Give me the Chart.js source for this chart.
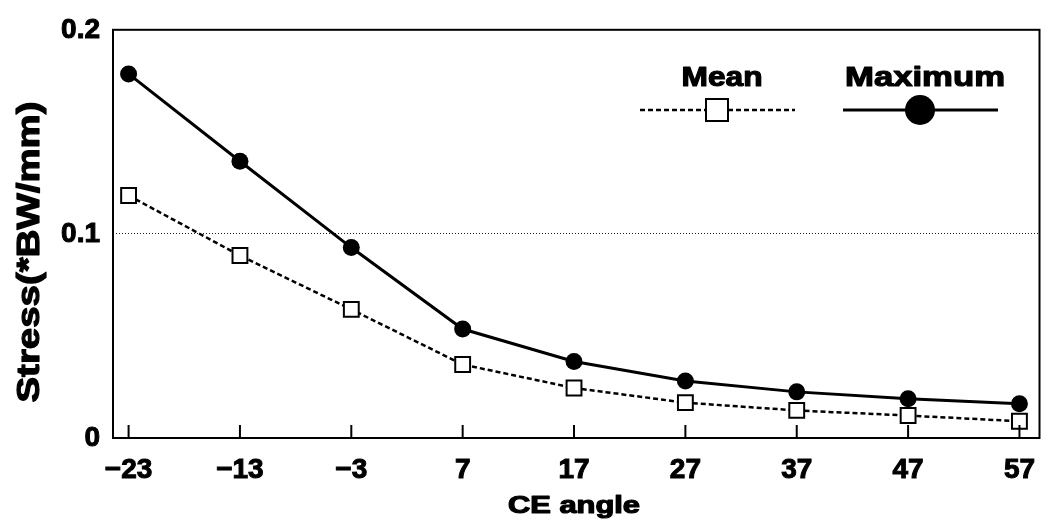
<!DOCTYPE html>
<html>
<head>
<meta charset="utf-8">
<script src="https://cdn.jsdelivr.net/npm/chart.js@4/dist/chart.umd.min.js"></script>
<style>
    html, body { margin: 0; padding: 0; background: #fff; }
    #wrap { width: 1052px; height: 523px; }
</style>
</head>
<body>
<div id="wrap"><canvas id="grafica" width="1052" height="523"></canvas></div>
<script>
// Datos
const angulos = [-23, -13, -3, 7, 17, 27, 37, 47, 57];
const etiquetasX = ['\u221223', '\u221213', '\u22123', '7', '17', '27', '37', '47', '57'];
const valoresMean = [0.1188, 0.0894, 0.0630, 0.0360, 0.0245, 0.0173, 0.0135, 0.0110, 0.0082];
const valoresMax = [0.1784, 0.1356, 0.0933, 0.0534, 0.0375, 0.0279, 0.0226, 0.0192, 0.0168];
const ticksY = [0, 0.1, 0.2];
const etiquetasY = ['0', '0.1', '0.2'];
const tituloX = 'CE angle';
const tituloY = 'Stress(*BW/mm)';
const nombresSeries = ['Mean', 'Maximum'];

const fuente = '"Liberation Sans", Arial, Helvetica, sans-serif';

// Texto en negrita ensanchado hasta un ancho dado (la tipografía original es más ancha y gruesa)
function textoAncho(ctx, texto, x, y, ancho, tam) {
    ctx.font = 'bold ' + tam + 'px ' + fuente;
    const w = ctx.measureText(texto).width;
    ctx.save();
    ctx.translate(x, y);
    ctx.scale(ancho / w, 1);
    ctx.textAlign = 'center';
    ctx.lineWidth = 1.2;
    ctx.lineJoin = 'round';
    ctx.strokeText(texto, 0, 0);
    ctx.fillText(texto, 0, 0);
    ctx.restore();
}

// Marco, marcas hacia dentro, títulos y leyenda propia
const extras = {
    id: 'extras',
    afterDraw(chart) {
        const ctx = chart.ctx;
        const area = chart.chartArea;
        const x = chart.scales.x;
        ctx.save();
        ctx.strokeStyle = '#000';
        ctx.fillStyle = '#000';
        ctx.lineWidth = 2;
        ctx.strokeRect(area.left, area.top, area.right - area.left, area.bottom - area.top);
        angulos.forEach(a => {
            const px = x.getPixelForValue(a);
            ctx.beginPath();
            ctx.moveTo(px, area.bottom);
            ctx.lineTo(px, area.bottom - 13);
            ctx.stroke();
        });

        // títulos de ejes
        ctx.textBaseline = 'alphabetic';
        textoAncho(ctx, tituloX, 574, 513, 132, 24);
        ctx.save();
        ctx.translate(39, 252);
        ctx.rotate(-Math.PI / 2);
        textoAncho(ctx, tituloY, 0, 0, 301, 32);
        ctx.restore();

        // leyenda
        textoAncho(ctx, nombresSeries[0], 722, 86, 81, 28);
        textoAncho(ctx, nombresSeries[1], 925, 86, 160, 28);

        ctx.lineWidth = 2.5;
        ctx.setLineDash([5, 3]);
        ctx.beginPath();
        ctx.moveTo(640, 110);
        ctx.lineTo(795, 110);
        ctx.stroke();
        ctx.setLineDash([]);
        ctx.lineWidth = 2;
        ctx.fillStyle = '#fff';
        ctx.fillRect(706, 99, 22, 22);
        ctx.strokeRect(706, 99, 22, 22);

        ctx.lineWidth = 3;
        ctx.beginPath();
        ctx.moveTo(843, 110);
        ctx.lineTo(998, 110);
        ctx.stroke();
        ctx.fillStyle = '#000';
        ctx.beginPath();
        ctx.arc(920, 110, 15, 0, Math.PI * 2);
        ctx.fill();
        ctx.restore();
    }
};

const ctx = document.getElementById('grafica').getContext('2d');
new Chart(ctx, {
    type: 'line',
    data: {
        datasets: [{
            label: nombresSeries[0],
            data: angulos.map((a, i) => ({ x: a, y: valoresMean[i] })),
            borderColor: '#000',
            borderWidth: 2.5,
            borderDash: [5, 3],
            pointStyle: 'rect',
            pointRadius: 10.5,
            pointBackgroundColor: '#fff',
            pointBorderColor: '#000',
            pointBorderWidth: 2,
            tension: 0
        }, {
            label: nombresSeries[1],
            data: angulos.map((a, i) => ({ x: a, y: valoresMax[i] })),
            borderColor: '#000',
            borderWidth: 3,
            pointStyle: 'circle',
            pointRadius: 8.5,
            pointBackgroundColor: '#000',
            pointBorderColor: '#000',
            pointBorderWidth: 0,
            tension: 0
        }]
    },
    options: {
        responsive: false,
        animation: false,
        layout: { padding: { top: 22, right: 8, left: 0, bottom: 0 } },
        plugins: {
            legend: { display: false },
            tooltip: { enabled: false }
        },
        scales: {
            x: {
                type: 'linear',
                min: -24.4,
                max: 58.8,
                afterBuildTicks: s => { s.ticks = angulos.map(v => ({ value: v })); },
                afterFit: s => { s.height = 85; },
                grid: { display: false, drawTicks: false },
                border: { display: false },
                ticks: {
                    color: '#000',
                    textStrokeColor: '#000',
                    textStrokeWidth: 1,
                    padding: 15,
                    maxRotation: 0,
                    autoSkip: false,
                    font: { family: fuente, size: 28, weight: 'bold' },
                    callback: (v) => etiquetasX[angulos.indexOf(v)]
                }
            },
            y: {
                min: 0,
                max: 0.2,
                afterBuildTicks: s => { s.ticks = ticksY.map(v => ({ value: v })); },
                afterFit: s => { s.width = 113; },
                grid: {
                    drawTicks: false,
                    color: c => c.tick && c.tick.value === 0.1 ? '#222' : 'rgba(0,0,0,0)',
                    lineWidth: 1
                },
                border: { display: false, dash: [1, 2] },
                ticks: {
                    color: '#000',
                    textStrokeColor: '#000',
                    textStrokeWidth: 1,
                    padding: 13,
                    font: { family: fuente, size: 28, weight: 'bold' },
                    callback: (v) => etiquetasY[ticksY.indexOf(v)]
                }
            }
        }
    },
    plugins: [extras]
});
</script>
</body>
</html>
